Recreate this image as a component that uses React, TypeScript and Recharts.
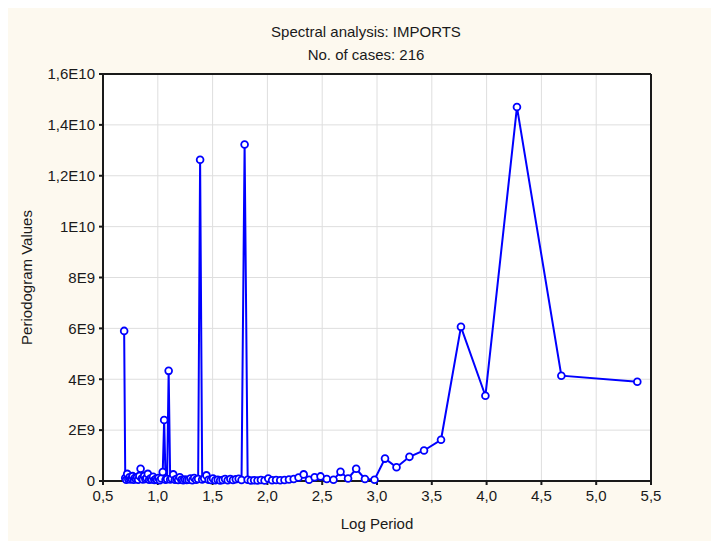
import { LineChart, Line, XAxis, YAxis, CartesianGrid, ReferenceLine, Label } from 'recharts';

// log period of each Fourier frequency, ascending
const logPeriod = [
  0.693, 0.703, 0.712, 0.721, 0.731, 0.741, 0.750, 0.760, 0.770, 0.780,
  0.790, 0.801, 0.811, 0.821, 0.832, 0.843, 0.854, 0.864, 0.876, 0.887,
  0.898, 0.909, 0.921, 0.933, 0.945, 0.957, 0.969, 0.981, 0.993, 1.006,
  1.019, 1.032, 1.045, 1.058, 1.071, 1.085, 1.099, 1.113, 1.127, 1.141,
  1.156, 1.171, 1.186, 1.201, 1.216, 1.232, 1.248, 1.264, 1.281, 1.298,
  1.315, 1.332, 1.350, 1.368, 1.386, 1.405, 1.424, 1.444, 1.463, 1.484,
  1.504, 1.525, 1.547, 1.569, 1.591, 1.614, 1.638, 1.662, 1.686, 1.712,
  1.738, 1.764, 1.792, 1.820, 1.849, 1.879, 1.910, 1.941, 1.974, 2.008,
  2.043, 2.079, 2.117, 2.156, 2.197, 2.240, 2.284, 2.331, 2.380, 2.431,
  2.485, 2.542, 2.603, 2.667, 2.736, 2.810, 2.890, 2.977, 3.073, 3.178,
  3.296, 3.429, 3.584, 3.766, 3.989, 4.277, 4.682, 5.375,
];

// periodogram values, same order
const periodogram = [
  5.9e9, 0.12e9, 0.05e9, 0.28e9, 0.08e9, 0.15e9, 0.06e9, 0.1e9, 0.19e9, 0.05e9,
  0.12e9, 0.08e9, 0.15e9, 0.05e9, 0.2e9, 0.48e9, 0.1e9, 0.06e9, 0.2e9, 0.08e9,
  0.12e9, 0.28e9, 0.05e9, 0.1e9, 0.06e9, 0.17e9, 0.04e9, 0.08e9, 0.05e9, 0.12e9,
  0.03e9, 0.1e9, 0.35e9, 2.4e9, 0.05e9, 0.08e9, 4.33e9, 0.06e9, 0.1e9, 0.26e9,
  0.05e9, 0.08e9, 0.04e9, 0.15e9, 0.05e9, 0.03e9, 0.06e9, 0.04e9, 0.05e9, 0.1e9,
  0.03e9, 0.12e9, 0.05e9, 0.08e9, 12.63e9, 0.06e9, 0.1e9, 0.22e9, 0.05e9, 0.04e9,
  0.1e9, 0.03e9, 0.05e9, 0.02e9, 0.04e9, 0.08e9, 0.03e9, 0.08e9, 0.04e9, 0.07e9,
  0.09e9, 0.04e9, 13.23e9, 0.05e9, 0.02e9, 0.03e9, 0.02e9, 0.04e9, 0.02e9, 0.1e9,
  0.03e9, 0.04e9, 0.03e9, 0.04e9, 0.06e9, 0.08e9, 0.14e9, 0.26e9, 0.05e9, 0.15e9,
  0.18e9, 0.08e9, 0.05e9, 0.36e9, 0.1e9, 0.48e9, 0.08e9, 0.05e9, 0.88e9, 0.54e9,
  0.95e9, 1.2e9, 1.62e9, 6.06e9, 3.35e9, 14.7e9, 4.14e9, 3.9e9,
];

const xTicks = [0.5, 1, 1.5, 2, 2.5, 3, 3.5, 4, 4.5, 5, 5.5];
const yTicks = [0, 2e9, 4e9, 6e9, 8e9, 1e10, 1.2e10, 1.4e10, 1.6e10];

const data = logPeriod.map((x, i) => ({ logPeriod: x, value: periodogram[i] }));

const FONT = '"Liberation Sans", Arial, sans-serif';
const INK = '#1a1a1a';

const fmtX = (v: number) => v.toFixed(1).replace('.', ',');
const fmtY = (v: number) => {
  if (v === 0) return '0';
  const e = Math.floor(Math.log10(v) + 1e-9);
  const m = +(v / 10 ** e).toFixed(1);
  return `${String(m).replace('.', ',')}E${e}`;
};

const tickStyle = { fontSize: 15, fill: INK, fontFamily: FONT };

export default function App() {
  return (
    <div style={{ position: 'relative', width: 713, height: 533, marginLeft: -2, background: '#fdf9ef', fontFamily: FONT, color: INK }}>
      <div style={{ position: 'absolute', left: 0, width: 720, top: 15, textAlign: 'center', fontSize: 15, lineHeight: '18px' }}>
        Spectral analysis: IMPORTS
      </div>
      <div style={{ position: 'absolute', left: 0, width: 720, top: 38, textAlign: 'center', fontSize: 15, lineHeight: '18px' }}>
        No. of cases: 216
      </div>
      <LineChart width={713} height={533} data={data} margin={{ top: 66, right: 0, bottom: 0, left: 0 }}>
        <CartesianGrid stroke="#dedede" fill="#ffffff" yAxisId="left" />
        <XAxis
          dataKey="logPeriod"
          type="number"
          domain={[0.5, 5.5]}
          ticks={xTicks}
          tickFormatter={fmtX}
          height={60}
          tick={tickStyle}
          tickSize={4}
          tickMargin={5}
          stroke={INK}
          strokeWidth={2}
          tickLine={{ stroke: INK, strokeWidth: 2 }}
        >
          <Label value="Log Period" position="insideBottom" offset={12} style={{ fontSize: 15, fill: INK, fontFamily: FONT }} />
        </XAxis>
        <YAxis
          yAxisId="left"
          domain={[0, 1.6e10]}
          ticks={yTicks}
          tickFormatter={fmtY}
          width={97}
          tick={tickStyle}
          tickSize={4}
          tickMargin={4}
          stroke={INK}
          strokeWidth={2}
          tickLine={{ stroke: INK, strokeWidth: 2 }}
        >
          <Label
            value="Periodogram Values"
            angle={-90}
            position="insideLeft"
            offset={21}
            style={{ fontSize: 15, fill: INK, fontFamily: FONT, textAnchor: 'middle' }}
          />
        </YAxis>
        <YAxis
          yAxisId="right"
          orientation="right"
          domain={[0, 1.6e10]}
          ticks={yTicks}
          tickFormatter={fmtY}
          width={68}
          tick={tickStyle}
          tickSize={4}
          tickMargin={4}
          stroke={INK}
          strokeWidth={2}
          tickLine={{ stroke: INK, strokeWidth: 2 }}
        />
        <ReferenceLine yAxisId="left" y={1.6e10} stroke={INK} strokeWidth={2} />
        <Line
          yAxisId="left"
          type="linear"
          dataKey="value"
          stroke="#0000ff"
          strokeWidth={2}
          dot={{ r: 3.4, stroke: '#0000ff', strokeWidth: 1.8, fill: '#ffffff' }}
          activeDot={false}
          isAnimationActive={false}
        />
      </LineChart>
    </div>
  );
}
